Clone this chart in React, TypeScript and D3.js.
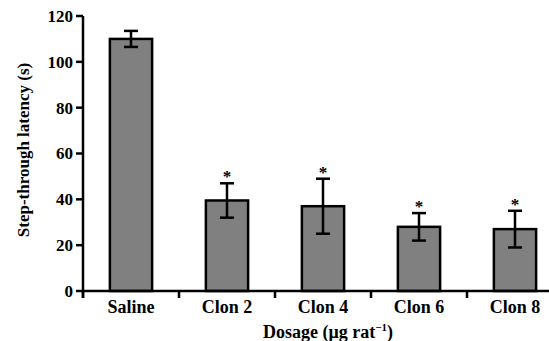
import React, { useEffect, useRef } from "react";
import * as d3 from "d3";

const categories = ["Saline", "Clon 2", "Clon 4", "Clon 6", "Clon 8"];
const latency = [110, 39.5, 37, 28, 27];
const errors = [3.5, 7.5, 12, 6, 8];
const significant = [false, true, true, true, true];
const yTicks = [0, 20, 40, 60, 80, 100, 120];

const W = 549;
const H = 341;
const FONT = "'Liberation Serif', 'Times New Roman', serif";

const App = () => {
  const svgEl = useRef<SVGSVGElement>(null);

  useEffect(() => {
    if (!svgEl.current) return;
    drawChartOn(svgEl.current);
  }, []);

  return (
    <div style={{ position: "absolute", left: 0, top: 0 }}>
      <svg ref={svgEl} width={W} height={H} style={{ display: "block", background: "#fff" }}></svg>
    </div>
  );
};

function drawChartOn(svgEl: SVGSVGElement) {
  const svg = d3.select(svgEl);
  svg.selectAll("*").remove();

  const x0 = 83;
  const yScale = d3.scaleLinear().domain([0, 120]).range([291, 16]);
  const xScale = d3
    .scaleBand()
    .domain(categories)
    .range([x0, x0 + 5 * 96])
    .paddingInner(0.56)
    .paddingOuter(0.28);

  const step = xScale.step();
  const g = svg.append("g");

  // bars
  g.selectAll("rect.bar")
    .data(categories)
    .enter()
    .append("rect")
    .attr("class", "bar")
    .attr("x", (d) => xScale(d)!)
    .attr("y", (d, i) => yScale(latency[i]))
    .attr("width", xScale.bandwidth())
    .attr("height", (d, i) => yScale(0) - yScale(latency[i]))
    .attr("fill", "#808080")
    .attr("stroke", "#000")
    .attr("stroke-width", 2.5);

  // error bars + significance marks
  const capW = 7;
  categories.forEach((c, i) => {
    const cx = xScale(c)! + xScale.bandwidth() / 2;
    const top = yScale(latency[i] + errors[i]);
    const bot = yScale(latency[i] - errors[i]);
    const eg = g.append("g").attr("stroke", "#000").attr("stroke-width", 2.5);
    eg.append("line").attr("x1", cx).attr("x2", cx).attr("y1", top).attr("y2", bot);
    eg.append("line").attr("x1", cx - capW).attr("x2", cx + capW).attr("y1", top).attr("y2", top);
    eg.append("line").attr("x1", cx - capW).attr("x2", cx + capW).attr("y1", bot).attr("y2", bot);
    if (significant[i]) {
      g.append("text")
        .attr("x", cx)
        .attr("y", top - 1)
        .attr("text-anchor", "middle")
        .attr("font-family", FONT)
        .attr("font-weight", "bold")
        .attr("font-size", 17)
        .text("*");
    }
  });

  // y axis
  g.append("line")
    .attr("x1", x0)
    .attr("x2", x0)
    .attr("y1", yScale(120))
    .attr("y2", yScale(0) + 7)
    .attr("stroke", "#000")
    .attr("stroke-width", 2.5);
  g.selectAll("line.ytick")
    .data(yTicks)
    .enter()
    .append("line")
    .attr("x1", x0 - 7)
    .attr("x2", x0)
    .attr("y1", (d) => yScale(d))
    .attr("y2", (d) => yScale(d))
    .attr("stroke", "#000")
    .attr("stroke-width", 2.5);
  g.selectAll("text.ytick")
    .data(yTicks)
    .enter()
    .append("text")
    .attr("x", x0 - 10)
    .attr("y", (d) => yScale(d))
    .attr("dy", "0.35em")
    .attr("text-anchor", "end")
    .attr("font-family", FONT)
    .attr("font-weight", "bold")
    .attr("font-size", 17)
    .text((d) => d);

  // x axis
  g.append("line")
    .attr("x1", x0)
    .attr("x2", W)
    .attr("y1", yScale(0))
    .attr("y2", yScale(0))
    .attr("stroke", "#000")
    .attr("stroke-width", 2.5);
  g.selectAll("line.xtick")
    .data(categories)
    .enter()
    .append("line")
    .attr("x1", (d) => xScale(d)! - (step - xScale.bandwidth()) / 2)
    .attr("x2", (d) => xScale(d)! - (step - xScale.bandwidth()) / 2)
    .attr("y1", yScale(0))
    .attr("y2", yScale(0) + 7)
    .attr("stroke", "#000")
    .attr("stroke-width", 2.5);
  g.selectAll("text.xtick")
    .data(categories)
    .enter()
    .append("text")
    .attr("x", (d) => xScale(d)! + xScale.bandwidth() / 2)
    .attr("y", 313)
    .attr("text-anchor", "middle")
    .attr("font-family", FONT)
    .attr("font-weight", "bold")
    .attr("font-size", 18)
    .text((d) => d);

  // axis titles
  const xt = g
    .append("text")
    .attr("x", 328)
    .attr("y", 338)
    .attr("text-anchor", "middle")
    .attr("font-family", FONT)
    .attr("font-weight", "bold")
    .attr("font-size", 18);
  xt.append("tspan").text("Dosage (μg rat");
  xt.append("tspan").attr("font-size", 11).attr("dy", -7).text("−1");
  xt.append("tspan").attr("dy", 7).text(")");

  g.append("text")
    .attr("transform", "translate(29,150) rotate(-90)")
    .attr("text-anchor", "middle")
    .attr("font-family", FONT)
    .attr("font-weight", "bold")
    .attr("font-size", 17)
    .text("Step-through latency (s)");
}

export default App;
